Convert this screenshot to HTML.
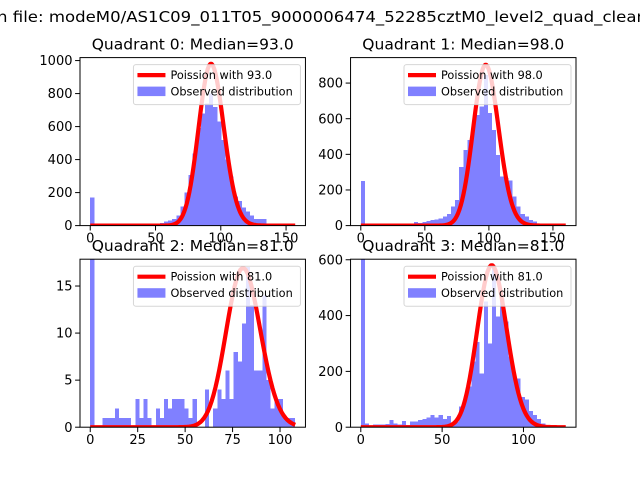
<!DOCTYPE html>
<html><head><meta charset="utf-8"><style>
html,body{margin:0;padding:0;background:#fff;}
svg{display:block;font-family:"DejaVu Sans","Liberation Sans",sans-serif;}
</style></head><body>
<svg id="fig" width="640" height="480" viewBox="0 0 640 480">
<rect width="640" height="480" fill="#fff"/>
<text x="-3" y="22" font-size="15.5" textLength="650" lengthAdjust="spacingAndGlyphs">n file: modeM0/AS1C09_011T05_9000006474_52285cztM0_level2_quad_clean</text>
</svg>
<script>
const medians = [93.0, 98.0, 81.0, 81.0];
const curvePeaks = [980, 902, 16.9, 580];
const binWidths = [3.14, 3.2, 2.16, 2.52];
const counts0 = [170,0,0,0,2,0,0,0,2,2,3,3,3,4,4,5,10,15,25,30,40,60,115,200,307,438,590,680,740,800,720,630,520,400,297,175,150,110,85,60,40,40,40,10,5,3,3,2,1,0];
const counts1 = [250,0,2,3,3,4,5,5,5,8,8,10,10,20,15,20,25,32,35,41,50,65,107,144,328,425,481,565,622,668,846,631,537,397,275,266,253,163,107,65,50,32,22,10,5,3,3,2,1,0];
const counts2 = [19,0,0,1,1,1,2,1,1,1,0,3,1,3,1,0,2,1,3,2,3,3,3,2,1,3,0,0,4,0,2,4,3,6,3,8,7,11,17,13,6,6,14,5,2,3,3,1,1,1];
const counts3 = [620,14,5,10,10,10,12,26,14,10,22,8,20,20,25,29,34,44,34,44,30,40,10,20,74,103,145,235,306,193,450,300,570,396,462,378,253,187,175,109,100,58,44,29,14,8,3,2,1,0];
const allCounts = [counts0, counts1, counts2, counts3];
const xDomains = [[-7.85,164.85],[-8,168],[-5.4,113.4],[-6.3,132.3]];
const yTops = [1018, 943, 17.85, 602];
const xTicks = [[0,50,100,150],[0,50,100,150],[0,25,50,75,100],[0,50,100]];
const yTicks = [[0,200,400,600,800,1000],[0,200,400,600,800],[0,5,10,15],[0,200,400,600]];
const curveMax = [157,160,108,126];

const NS = "http://www.w3.org/2000/svg";
const svg = document.getElementById('fig');
function mk(tag, attrs, parent){const e=document.createElementNS(NS,tag);for(const k in attrs)e.setAttribute(k,attrs[k]);(parent||svg).appendChild(e);return e;}
function lgamma(z){const g=7,c=[0.99999999999980993,676.5203681218851,-1259.1392167224028,771.32342877765313,-176.61503916999185,12.507343278686905,-0.13857109526572012,9.9843695780195716e-6,1.5056327351493116e-7];z-=1;let x=c[0];for(let i=1;i<g+2;i++)x+=c[i]/(z+i);const t=z+g+0.5;return 0.5*Math.log(2*Math.PI)+(z+0.5)*Math.log(t)-t+Math.log(x);}
function logpmf(k,l){return k*Math.log(l)-l-lgamma(k+1);}

const W = 225.45, H = 168;
const lefts = [80, 350.55, 80, 350.55];
const tops = [57.6, 57.6, 259.2, 259.2];

for (let p=0;p<4;p++){
  const L=lefts[p], T=tops[p], B=T+H, R=L+W;
  const xd=xDomains[p], yt=yTops[p];
  const sx=v=>L+(v-xd[0])/(xd[1]-xd[0])*W;
  const sy=v=>B-v/yt*H;
  const g=mk('g',{});
  
  
  const cp=mk('clipPath',{id:'clip'+p},g);
  mk('rect',{x:L,y:T,width:W,height:H},cp);
  const bars=mk('g',{'clip-path':'url(#clip'+p+')',fill:'#8080ff','shape-rendering':'crispEdges'},g);
  
  
  const cs=allCounts[p], bw=binWidths[p];
  cs.forEach((c,i)=>{
    if(c<=0)return;
    const x0=sx(i*bw), x1=sx((i+1)*bw);
    const r=mk('rect',{x:x0,y:sy(c),width:x1-x0,height:B-sy(c)},bars);
    
    
  });
  const lam=medians[p];
  const mode=Math.floor(lam);
  const peakLog=logpmf(mode,lam);
  let d='';
  for(let k=0;k<=curveMax[p];k++){
    const v=curvePeaks[p]*Math.exp(logpmf(k,lam)-peakLog);
    d+=(k?'L':'M')+sx(k).toFixed(2)+','+sy(v).toFixed(2);
  }
  const cpath=mk('path',{d:d,fill:'none',stroke:'#ff0000','stroke-width':4.2,'stroke-linejoin':'round','clip-path':'url(#clip'+p+')'},g);
  
  
  const fr=mk('rect',{x:L,y:T,width:W,height:H,fill:'none',stroke:'#000','stroke-width':1},g);
  
  
  xTicks[p].forEach(t=>{
    const x=sx(t);
    mk('line',{x1:x,y1:B,x2:x,y2:B+4.9,stroke:'#000','stroke-width':1},g);
    const tx=mk('text',{x:x,y:B+17,'font-size':13,'text-anchor':'middle'},g);
    tx.textContent=t;
    
    
  });
  yTicks[p].forEach(t=>{
    const y=sy(t);
    mk('line',{x1:L-4.9,y1:y,x2:L,y2:y,stroke:'#000','stroke-width':1},g);
    const ty=mk('text',{x:L-7.5,y:y+4.6,'font-size':13,'text-anchor':'end'},g);
    ty.textContent=t;
    
    
  });
  const tt=mk('text',{x:L+W/2,y:T-8,'font-size':15.5,'text-anchor':'middle'},g);
  tt.textContent='Quadrant '+p+': Median='+lam.toFixed(1);
  
  
  const lg=mk('g',{},g);
  
  
  const lx=R-172, ly=T+7;
  mk('rect',{x:lx,y:ly,width:167,height:40,rx:2.5,fill:'#fff','fill-opacity':0.8,stroke:'#cccccc','stroke-opacity':0.8,'stroke-width':1},lg);
  mk('line',{x1:lx+4,y1:ly+10.5,x2:lx+32,y2:ly+10.5,stroke:'#ff0000','stroke-width':4.2},lg);
  const t1=mk('text',{x:lx+37,y:ly+14.5,'font-size':11.3},lg);
  t1.textContent='Poission with '+lam.toFixed(1);
  
  
  mk('rect',{x:lx+4,y:ly+22,width:28,height:9.5,fill:'#8080ff'},lg);
  const t2=mk('text',{x:lx+37,y:ly+31,'font-size':11.3},lg);
  t2.textContent='Observed distribution';
  
  
}
</script>
</body></html>
